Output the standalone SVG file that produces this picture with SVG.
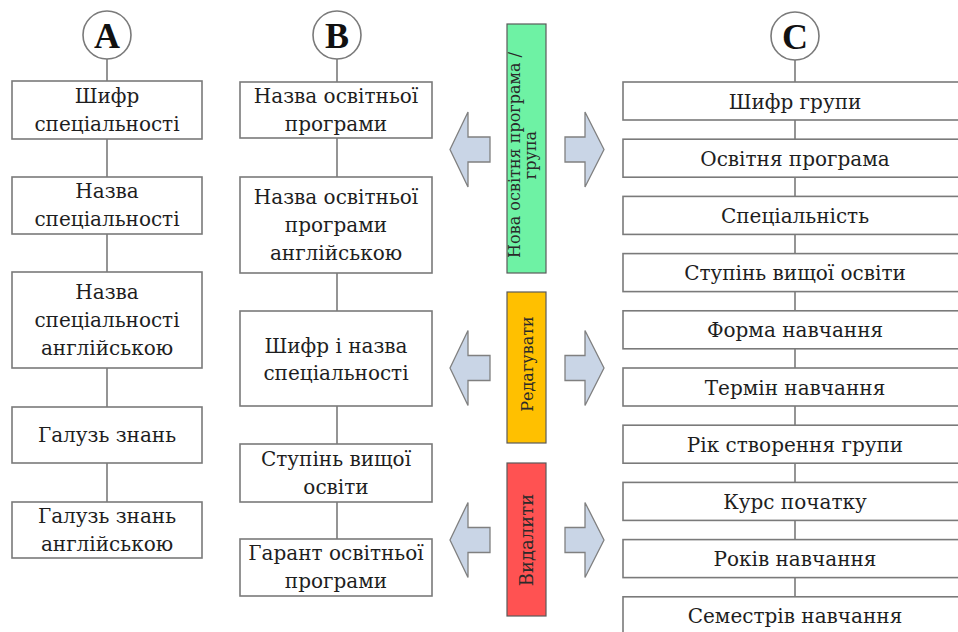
<svg xmlns="http://www.w3.org/2000/svg" xmlns:xlink="http://www.w3.org/1999/xlink" width="958" height="632" viewBox="0 0 958 632">
<style>
.box{fill:#fff;stroke:#7a7a7a;stroke-width:1.6}
.circ{fill:#fff;stroke:#7a7a7a;stroke-width:1.6}
.t{font-family:"DejaVu Serif","Liberation Serif",serif;font-size:20px;fill:#1e1e1e;text-anchor:middle}
.h{font-family:"Liberation Serif","DejaVu Serif",serif;font-size:36px;font-weight:bold;fill:#111;text-anchor:middle}
.v{font-family:"DejaVu Serif","Liberation Serif",serif;font-size:16px;fill:#2a2a2a;text-anchor:middle}
.con line{stroke:#7a7a7a;stroke-width:1.6}
.arr{fill:#c9d5e6;stroke:#808080;stroke-width:1.3}
.bar{stroke:#5a5a5a;stroke-width:1.2}
</style>
<defs>
<path id="la" d="M450,0 L468,-37.5 L468,-12.5 L490,-12.5 L490,12.5 L468,12.5 L468,37.5 Z"/>
<path id="ra" d="M604,0 L585,-37.5 L585,-12.5 L565,-12.5 L565,12.5 L585,12.5 L585,37.5 Z"/>
</defs>
<rect width="958" height="632" fill="#fff"/>

<g class="con">
<line x1="107" y1="59" x2="107" y2="81"/>
<line x1="107" y1="139" x2="107" y2="177"/>
<line x1="107" y1="234" x2="107" y2="272"/>
<line x1="107" y1="368" x2="107" y2="407"/>
<line x1="107" y1="463" x2="107" y2="502"/>
<line x1="337" y1="59" x2="337" y2="82"/>
<line x1="337" y1="138" x2="337" y2="177"/>
<line x1="337" y1="273" x2="337" y2="311"/>
<line x1="337" y1="406" x2="337" y2="444"/>
<line x1="337" y1="502" x2="337" y2="539"/>
<line x1="795" y1="60" x2="795" y2="82"/>
<line x1="795" y1="120" x2="795" y2="139.2"/>
<line x1="795" y1="177.2" x2="795" y2="196.4"/>
<line x1="795" y1="234.4" x2="795" y2="253.6"/>
<line x1="795" y1="291.6" x2="795" y2="310.8"/>
<line x1="795" y1="348.8" x2="795" y2="368"/>
<line x1="795" y1="406" x2="795" y2="425.2"/>
<line x1="795" y1="463.2" x2="795" y2="482.4"/>
<line x1="795" y1="520.4" x2="795" y2="539.6"/>
<line x1="795" y1="577.6" x2="795" y2="596.8"/>
</g>

<!-- Column A -->
<g id="A-head"><circle class="circ" cx="107" cy="35" r="24"/><text class="h" x="107" y="48">A</text></g>
<g id="A1"><rect class="box" x="12" y="81" width="190" height="58"/><text class="t" x="107" y="103">Шифр</text><text class="t" x="107" y="131">спеціальності</text></g>
<g id="A2"><rect class="box" x="12" y="177" width="190" height="57"/><text class="t" x="107" y="198">Назва</text><text class="t" x="107" y="226">спеціальності</text></g>
<g id="A3"><rect class="box" x="12" y="272" width="190" height="96"/><text class="t" x="107" y="299">Назва</text><text class="t" x="107" y="327">спеціальності</text><text class="t" x="107" y="355">англійською</text></g>
<g id="A4"><rect class="box" x="12" y="407" width="190" height="56"/><text class="t" x="107" y="442">Галузь знань</text></g>
<g id="A5"><rect class="box" x="12" y="502" width="190" height="56"/><text class="t" x="107" y="523">Галузь знань</text><text class="t" x="107" y="551">англійською</text></g>

<!-- Column B -->
<g id="B-head"><circle class="circ" cx="337" cy="35" r="24"/><text class="h" x="337" y="48">B</text></g>
<g id="B1"><rect class="box" x="240" y="82" width="192" height="56"/><text class="t" x="336" y="103">Назва освітньої</text><text class="t" x="336" y="131">програми</text></g>
<g id="B2"><rect class="box" x="240" y="177" width="192" height="96"/><text class="t" x="336" y="204">Назва освітньої</text><text class="t" x="336" y="232">програми</text><text class="t" x="336" y="260">англійською</text></g>
<g id="B3"><rect class="box" x="240" y="311" width="192" height="95"/><text class="t" x="336" y="353">Шифр і назва</text><text class="t" x="336" y="380">спеціальності</text></g>
<g id="B4"><rect class="box" x="240" y="444" width="192" height="58"/><text class="t" x="336" y="466">Ступінь вищої</text><text class="t" x="336" y="494">освіти</text></g>
<g id="B5"><rect class="box" x="240" y="539" width="192" height="57"/><text class="t" x="336" y="560">Гарант освітньої</text><text class="t" x="336" y="588">програми</text></g>

<!-- Middle action bars -->
<g id="new">
<rect class="bar" x="507" y="24" width="39" height="249" fill="#6ef2a4"/>
<text class="v" transform="translate(527,155) rotate(-90)"><tspan x="0" y="-7">Нова освітня програма /</tspan><tspan x="0" y="9">група</tspan></text>
</g>
<g id="edit">
<rect class="bar" x="507" y="292" width="39" height="151" fill="#ffc000"/>
<text class="v" transform="translate(527,364) rotate(-90)" y="6">Редагувати</text>
</g>
<g id="delete">
<rect class="bar" x="507" y="463" width="39" height="153" fill="#ff5252"/>
<text class="v" transform="translate(527,540) rotate(-90)" y="6" style="font-size:18px">Видалити</text>
</g>

<!-- Arrows -->
<g id="arrows">
<use href="#la" xlink:href="#la" class="arr" transform="translate(0,149.5)"/>
<use href="#ra" xlink:href="#ra" class="arr" transform="translate(0,149.5)"/>
<use href="#la" xlink:href="#la" class="arr" transform="translate(0,368)"/>
<use href="#ra" xlink:href="#ra" class="arr" transform="translate(0,368)"/>
<use href="#la" xlink:href="#la" class="arr" transform="translate(0,540)"/>
<use href="#ra" xlink:href="#ra" class="arr" transform="translate(0,540)"/>
</g>

<!-- Column C -->
<g id="C-head"><circle class="circ" cx="795" cy="36" r="24"/><text class="h" x="795" y="49">C</text></g>
<g id="C1"><rect class="box" x="623" y="82" width="345" height="38"/><text class="t" x="795" y="108.5">Шифр групи</text></g>
<g id="C2"><rect class="box" x="623" y="139.2" width="345" height="38"/><text class="t" x="795" y="165.7">Освітня програма</text></g>
<g id="C3"><rect class="box" x="623" y="196.4" width="345" height="38"/><text class="t" x="795" y="222.9">Спеціальність</text></g>
<g id="C4"><rect class="box" x="623" y="253.6" width="345" height="38"/><text class="t" x="795" y="280.1">Ступінь вищої освіти</text></g>
<g id="C5"><rect class="box" x="623" y="310.8" width="345" height="38"/><text class="t" x="795" y="337.3">Форма навчання</text></g>
<g id="C6"><rect class="box" x="623" y="368" width="345" height="38"/><text class="t" x="795" y="394.5">Термін навчання</text></g>
<g id="C7"><rect class="box" x="623" y="425.2" width="345" height="38"/><text class="t" x="795" y="451.7">Рік створення групи</text></g>
<g id="C8"><rect class="box" x="623" y="482.4" width="345" height="38"/><text class="t" x="795" y="508.9">Курс початку</text></g>
<g id="C9"><rect class="box" x="623" y="539.6" width="345" height="38"/><text class="t" x="795" y="566.1">Років навчання</text></g>
<g id="C10"><rect class="box" x="623" y="596.8" width="345" height="38"/><text class="t" x="795" y="623.3">Семестрів навчання</text></g>
</svg>
